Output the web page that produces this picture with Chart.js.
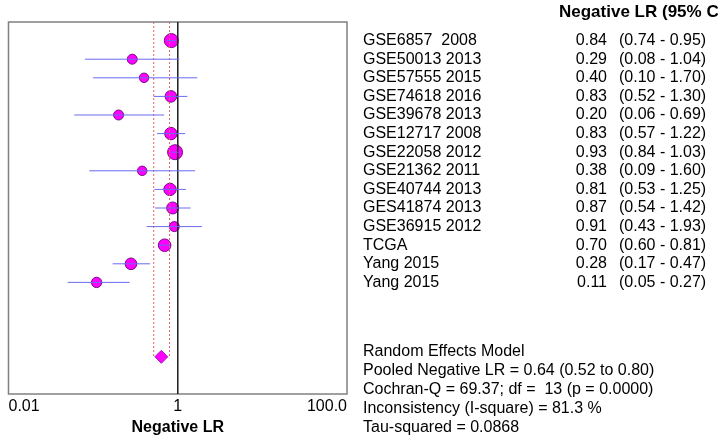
<!DOCTYPE html>
<html>
<head>
<meta charset="utf-8">
<script src="https://cdn.jsdelivr.net/npm/chart.js@4"></script>
<style>
  html, body { margin: 0; padding: 0; background: #fff; }
  #wrap { width: 718px; height: 440px; }
</style>
</head>
<body>
<div id="wrap"><canvas id="grafico" width="718" height="440"></canvas></div>
<script>
// estudos e valores (Negative LR, IC 95%)
var estudos = ["GSE6857  2008", "GSE50013 2013", "GSE57555 2015", "GSE74618 2016", "GSE39678 2013",
    "GSE12717 2008", "GSE22058 2012", "GSE21362 2011", "GSE40744 2013", "GES41874 2013",
    "GSE36915 2012", "TCGA", "Yang 2015", "Yang 2015"];
var valores = [0.84, 0.29, 0.40, 0.83, 0.20, 0.83, 0.93, 0.38, 0.81, 0.87, 0.91, 0.70, 0.28, 0.11];
var inferior = [0.74, 0.08, 0.10, 0.52, 0.06, 0.57, 0.84, 0.09, 0.53, 0.54, 0.43, 0.60, 0.17, 0.05];
var superior = [0.95, 1.04, 1.70, 1.30, 0.69, 1.22, 1.03, 1.60, 1.25, 1.42, 1.93, 0.81, 0.47, 0.27];
// peso relativo de cada estudo (tamanho do marcador)
var pesos = [9.3, 4.7, 4.2, 6.4, 4.7, 7.3, 10.6, 4.2, 7.3, 6.8, 4.7, 7.5, 6.4, 5.1];

// modelo de efeitos aleatorios
var pooled = 0.64, pooledInf = 0.52, pooledSup = 0.80;
var resumo = ["Random Effects Model",
    "Pooled Negative LR = 0.64 (0.52 to 0.80)",
    "Cochran-Q = 69.37; df =  13 (p = 0.0000)",
    "Inconsistency (I-square) = 81.3 %",
    "Tau-squared = 0.0868"];

var ticksX = [0.01, 1, 100];
var ticksXLabels = ["0.01", "1", "100.0"];
var linhaPooled = 17; // posicao do losango

function fmt(v) { return v.toFixed(2); }

var datasets = [];

// linhas do IC de cada estudo
estudos.forEach(function (e, i) {
    datasets.push({
        type: 'line',
        data: [{ x: inferior[i], y: i }, { x: superior[i], y: i }],
        borderColor: '#6a6af0',
        borderWidth: 1,
        pointRadius: 0,
        order: 1
    });
});

// linha de nulidade em 1
datasets.push({
    type: 'line',
    data: [{ x: 1, y: -1 }, { x: 1, y: 19 }],
    borderColor: '#222222',
    borderWidth: 1,
    pointRadius: 0,
    order: 1
});

// limites do IC combinado
[pooledInf, pooledSup].forEach(function (v) {
    datasets.push({
        type: 'line',
        data: [{ x: v, y: -1 }, { x: v, y: linhaPooled }],
        borderColor: '#e86060',
        borderWidth: 1,
        borderDash: [2, 2],
        pointRadius: 0,
        order: 1
    });
});

// estimativas pontuais
datasets.push({
    type: 'scatter',
    data: valores.map(function (v, i) { return { x: v, y: i }; }),
    backgroundColor: '#ff00ff',
    borderColor: '#7a0a8a',
    borderWidth: 1,
    pointRadius: pesos.map(function (p) { return Math.sqrt(p) * 2.3; }),
    order: 2
});

// losango do efeito combinado
datasets.push({
    type: 'scatter',
    data: [{ x: pooled, y: linhaPooled }],
    backgroundColor: '#ff00ff',
    borderColor: '#a020c0',
    borderWidth: 1,
    pointStyle: 'rectRot',
    pointRadius: 6.5,
    order: 0
});

var plugTextos = {
    id: 'textos',
    beforeDatasetsDraw: function (chart) {
        var ctx = chart.ctx, a = chart.chartArea;
        ctx.save();
        ctx.strokeStyle = '#808080';
        ctx.lineWidth = 1.5;
        ctx.strokeRect(a.left, a.top, a.right - a.left, a.bottom - a.top);
        ctx.restore();
    },
    afterDraw: function (chart) {
        var ctx = chart.ctx, y = chart.scales.y;
        ctx.save();
        ctx.fillStyle = '#000';
        ctx.textBaseline = 'middle';
        ctx.font = 'bold 17px "Liberation Sans", Arial, sans-serif';
        ctx.textAlign = 'left';
        ctx.fillText('Negative LR (95% CI)', 559, 12);
        ctx.font = '16px "Liberation Sans", Arial, sans-serif';
        estudos.forEach(function (e, i) {
            var py = y.getPixelForValue(i);
            ctx.textAlign = 'left';
            ctx.fillText(e, 363, py);
            ctx.textAlign = 'right';
            ctx.fillText(fmt(valores[i]), 607, py);
            ctx.textAlign = 'left';
            ctx.fillText('(' + fmt(inferior[i]) + ' - ' + fmt(superior[i]) + ')', 619, py);
        });
        ctx.textAlign = 'left';
        resumo.forEach(function (t, k) {
            ctx.fillText(t, 363, 352 + k * 19);
        });
        ctx.restore();
    }
};

new Chart(document.getElementById('grafico'), {
    type: 'scatter',
    data: { datasets: datasets },
    options: {
        responsive: false,
        animation: false,
        layout: { padding: { left: 5, right: 371, top: 22, bottom: 4.8 } },
        plugins: { legend: { display: false }, tooltip: { enabled: false } },
        scales: {
            x: {
                type: 'logarithmic',
                min: 0.01,
                max: 100,
                afterBuildTicks: function (scale) {
                    scale.ticks = ticksX.map(function (v) { return { value: v }; });
                },
                afterFit: function (scale) {
                    scale.paddingLeft = 0;
                    scale.paddingRight = 0;
                },
                grid: { display: false, drawTicks: false },
                border: { display: false },
                ticks: {
                    align: 'inner',
                    padding: 3,
                    maxRotation: 0,
                    autoSkip: false,
                    color: '#000',
                    font: { family: '"Liberation Sans", Arial, sans-serif', size: 16 },
                    callback: function (v, idx) { return ticksXLabels[idx]; }
                },
                title: {
                    display: true,
                    text: 'Negative LR',
                    color: '#000',
                    padding: { top: 0, bottom: 0 },
                    font: { family: '"Liberation Sans", Arial, sans-serif', size: 16, weight: 'bold', lineHeight: 1 }
                }
            },
            y: {
                display: false,
                min: -1,
                max: 19,
                reverse: true
            }
        }
    },
    plugins: [plugTextos]
});
</script>
</body>
</html>
